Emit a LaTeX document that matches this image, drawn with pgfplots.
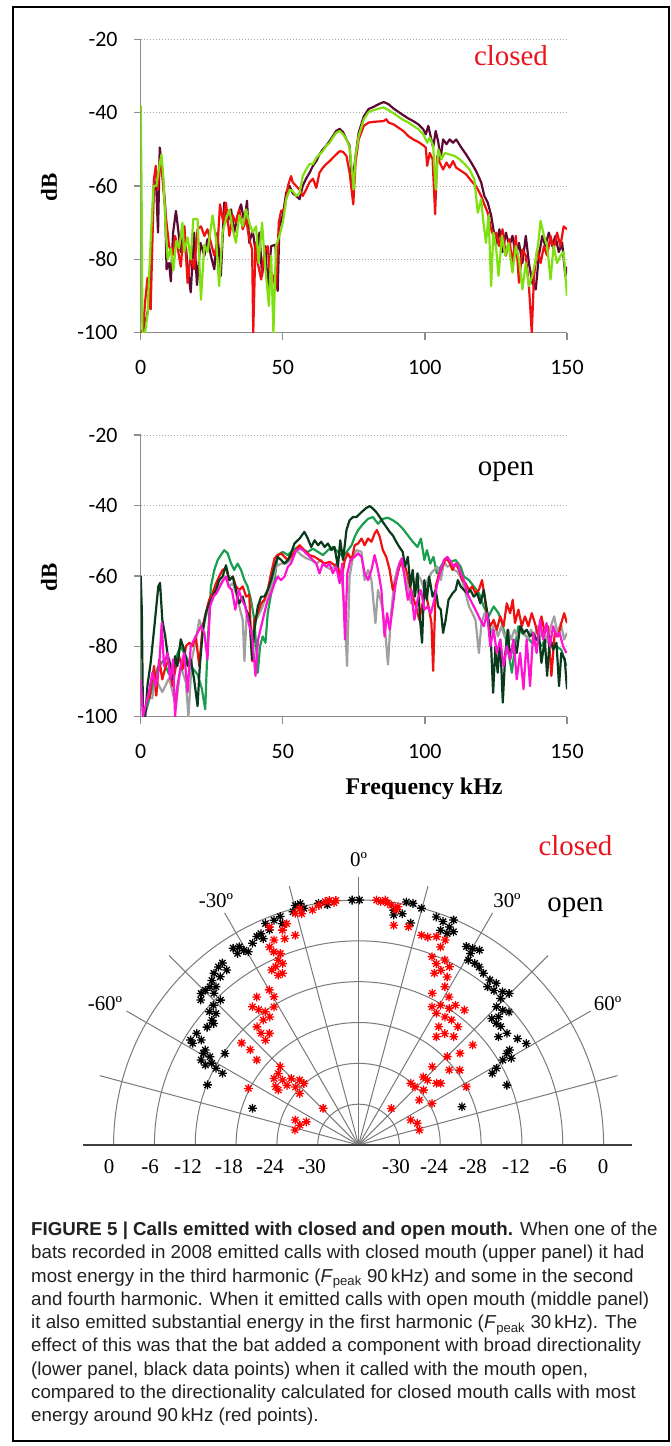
\documentclass[border=0pt]{standalone}
\usepackage{fontspec}
\setmainfont{Liberation Serif}
\newfontfamily\calibri{Carlito}
\newfontfamily\capfont{Liberation Sans}
\usepackage{pgfplots}
\usepackage{pgfplotstable}
\pgfplotsset{compat=1.18}

\definecolor{axgray}{HTML}{8C8C8C}
\definecolor{gridgray}{HTML}{A8A8A8}
\definecolor{polgray}{HTML}{7A7A7A}
\definecolor{maroon}{HTML}{5C0A33}
\definecolor{tred}{HTML}{F01010}
\definecolor{lime}{HTML}{7FE010}
\definecolor{dkgreen}{HTML}{0A3A1C}
\definecolor{mdgreen}{HTML}{1A9E50}
\definecolor{mgray}{HTML}{A0A0A0}
\definecolor{magenta}{HTML}{FF14D2}
\definecolor{lblred}{HTML}{E8141C}

% 8-armed star, as the '*' marker of the original
\pgfdeclareplotmark{mstar}{%
  \pgfpathmoveto{\pgfqpoint{0pt}{\pgfplotmarksize}}\pgfpathlineto{\pgfqpoint{0pt}{-\pgfplotmarksize}}%
  \pgfpathmoveto{\pgfqpoint{\pgfplotmarksize}{0pt}}\pgfpathlineto{\pgfqpoint{-\pgfplotmarksize}{0pt}}%
  \pgfpathmoveto{\pgfqpoint{0.707\pgfplotmarksize}{0.707\pgfplotmarksize}}\pgfpathlineto{\pgfqpoint{-0.707\pgfplotmarksize}{-0.707\pgfplotmarksize}}%
  \pgfpathmoveto{\pgfqpoint{0.707\pgfplotmarksize}{-0.707\pgfplotmarksize}}\pgfpathlineto{\pgfqpoint{-0.707\pgfplotmarksize}{0.707\pgfplotmarksize}}%
  \pgfusepathqstroke}

\pgfplotsset{spec/.style={
  scale only axis, width=426.3bp,
  xmin=0, xmax=150, ymin=-100, ymax=-20,
  xtick={0,50,100,150}, ytick={-100,-80,-60,-40,-20},
  axis x line*=bottom, axis y line*=left,
  axis line style={draw=axgray, line width=1.3bp, -},
  tick style={draw=axgray, line width=1.3bp},
  tick align=outside, major tick length=7bp,
  ymajorgrids, grid style={draw=gridgray, line width=1bp, dotted},
  /pgf/number format/assume math mode=true,
  tick label style={font=\calibri\fontsize{22}{22}\selectfont, inner sep=0pt},
  xticklabel style={anchor=north, yshift=-20.3bp},
  yticklabel style={anchor=east, xshift=-16bp},
  every axis plot/.append style={line width=2.2bp, no markers, line join=round},
}}

% polar data: angle from straight ahead (deg), level (dB)
\pgfplotstableread{
ang db
-14.8 0.4
-13.0 -0.3
-15.7 -0.4
-13.6 0.5
-9.4 0.0
-7.4 -0.4
-18.9 -0.5
-20.6 -0.7
-22.8 -0.7
-19.0 -1.6
-24.8 -1.8
-26.0 -1.9
-24.8 -2.6
-22.5 -1.8
-31.0 -2.0
-32.5 -1.7
-30.5 -2.8
-32.3 -2.7
-27.7 -2.5
-29.7 -3.3
-36.8 -2.6
-38.2 -2.7
-40.1 -3.0
-37.0 -3.8
-39.4 -4.0
-41.7 -3.6
-43.2 -4.1
-42.0 -4.7
-44.7 -4.0
-46.1 -3.9
-43.6 -5.2
-43.6 -6.6
-47.4 -4.5
-46.1 -6.4
-48.2 -6.6
-47.3 -7.5
-49.6 -7.7
-50.0 -8.2
-52.1 -7.8
-55.4 -7.1
-58.0 -6.9
-58.5 -7.4
-56.3 -8.2
-58.2 -9.5
-59.4 -9.5
-59.3 -10.6
-61.6 -9.7
-62.4 -10.6
-60.9 -11.3
-62.2 -13.4
-61.7 -12.2
-55.6 -12.2
-68.3 -12.1
-70.9 -19.5
-1.5 0.0
0.2 0.0
11.1 0.4
12.7 0.4
14.9 0.0
8.5 -1.1
10.7 -1.4
13.2 -2.5
8.7 -1.8
18.8 -0.6
20.7 -0.9
22.6 -1.3
24.0 -1.7
20.9 -2.2
22.7 -2.3
22.9 -0.1
28.5 -2.8
30.1 -2.6
31.8 -2.3
30.3 -3.4
30.7 -4.4
32.6 -4.3
34.1 -4.4
36.0 -4.8
38.5 -5.0
40.4 -4.8
39.2 -6.0
41.2 -5.8
43.2 -5.1
44.8 -4.6
44.1 -6.0
44.9 -7.3
46.9 -7.0
48.5 -6.5
47.5 -8.1
46.5 -9.0
48.5 -9.0
50.2 -8.8
53.0 -8.7
52.3 -10.0
56.2 -7.9
58.8 -7.2
57.8 -9.8
58.3 -10.4
59.5 -11.4
60.4 -10.2
60.9 -12.8
61.8 -13.7
68.0 -12.5
69.7 -19.8
}\openpts

\pgfplotstableread{
ang db
-6.8 0.2
-5.3 0.1
-5.8 -0.2
-7.8 0.1
-9.4 -0.3
-14.0 -0.2
-11.1 -0.8
-15.3 -0.7
-13.8 -1.0
-19.5 -2.5
-18.0 -1.8
-22.2 -1.4
-16.8 -3.8
-19.7 -3.8
-22.4 -3.4
-24.2 -4.1
-23.7 -5.0
-22.2 -5.6
-23.5 -6.4
-22.7 -7.1
-24.9 -7.1
-26.4 -7.3
-25.3 -8.4
-23.9 -8.4
-29.9 -9.7
-29.7 -10.9
-34.5 -9.6
-37.5 -10.4
-36.4 -11.3
-35.0 -12.1
-31.5 -12.2
-34.7 -13.1
-37.3 -12.9
-40.7 -13.1
-41.1 -14.2
-38.6 -15.0
-41.6 -15.4
-48.9 -13.2
-48.7 -14.8
-50.1 -16.5
-45.0 -19.7
-48.3 -20.2
-51.8 -20.2
-49.5 -21.3
-45.4 -22.1
-42.2 -23.1
-41.6 -23.9
-47.4 -23.4
-50.2 -22.3
-55.6 -21.7
-54.8 -21.1
-48.8 -24.5
-62.8 -17.8
-44.0 -28.5
-68.4 -26.0
-66.1 -27.6
-71.3 -26.9
-76.7 -26.4
4.2 0.1
5.2 -0.1
6.2 0.2
6.8 -0.2
7.8 -0.4
9.4 -0.5
9.0 -1.0
9.1 -3.3
12.9 -3.1
16.7 -3.8
18.4 -3.8
20.5 -3.3
22.9 -3.3
22.5 -4.5
21.3 -6.3
23.2 -7.0
25.0 -6.0
27.0 -6.6
25.2 -7.6
23.8 -8.4
27.8 -8.1
28.6 -9.5
25.9 -11.2
31.4 -10.5
28.0 -13.0
30.4 -12.2
33.6 -11.9
34.7 -11.0
38.1 -10.8
30.6 -13.5
34.0 -13.3
36.6 -13.1
40.0 -13.3
34.1 -15.0
37.7 -15.3
41.3 -14.8
35.7 -16.4
48.8 -13.7
47.9 -15.9
45.1 -17.6
43.2 -20.2
50.4 -18.7
53.5 -17.5
43.6 -22.2
46.8 -22.1
51.6 -21.4
44.1 -24.1
40.2 -24.1
49.8 -23.5
53.1 -20.9
61.6 -18.0
53.5 -24.9
60.5 -23.6
41.9 -28.8
64.4 -27.5
69.7 -26.8
76.1 -26.8
}\closedpts

\begin{document}
\begin{tikzpicture}[x=1bp,y=1bp]
\path[use as bounding box] (0,0) rectangle (671,-1446);
\draw[line width=1.3bp] (13,-7) rectangle (669,-1441);

% ---------------- upper panel: closed mouth
\begin{axis}[spec, height=293.4bp, at={(140.7bp,-332.7bp)}, anchor=south west]
\addplot[maroon] coordinates {
(0,-100)(1,-99)(2,-96)(2.9,-92.7)(4.1,-70)(4.7,-58)(5.5,-61)(6.1,-72.7)(6.7,-49.5)(7.6,-55.5)
(8.6,-65.5)(9.1,-82.7)(10,-81)(10.6,-86)(11.4,-72.7)(12.4,-66.8)(13.3,-72.7)(14.1,-78)(15.3,-71)
(16.5,-82)(17.6,-89)(18.8,-72.7)(19.8,-87)(21,-75.5)(22.4,-79)(23.5,-74.5)(24.7,-79)(25.9,-82.7)
(27,-72.7)(28.2,-84.5)(29.4,-64.5)(30.6,-70)(31.8,-66.4)(32.9,-72.7)(34.1,-68)(35.3,-65)(36.5,-70)
(37.4,-64)(38.2,-75.5)(39.4,-72)(40.6,-79)(41.8,-72.7)(42.7,-84.5)(43.9,-76.4)(44.7,-88)(45.9,-76.4)
(47.4,-76)(48.2,-88.6)(48.8,-71)(50,-68)(51.2,-61.8)(52.4,-60)(53.5,-62)(54.7,-62.7)(55.9,-63.6)
(57,-60)(58.2,-58)(59.4,-56.4)(60.6,-54.5)(61.8,-53.2)(62.9,-51.4)(64.1,-50)(65.3,-49)(66.5,-47.7)
(67.6,-46.4)(68.8,-45)(70,-44.4)(71.2,-45.3)(72.4,-47.3)(73.5,-49)(74.4,-60)(75.6,-51.8)(76.7,-45.5)
(78.5,-41)(80.2,-39)(82,-38.4)(83.7,-37.7)(85.5,-37.1)(87.2,-37.7)(89,-38.9)(90.7,-39.8)(92.4,-40.7)
(94.2,-41.6)(95.9,-42.3)(97.7,-43.2)(99.4,-44.5)(100.3,-45.9)(101.2,-43.6)(102,-46.4)(102.9,-49.5)
(103.8,-45)(104.7,-48)(105.5,-52.7)(106.4,-47.3)(107.6,-48.6)(108.7,-47.3)(109.9,-48.2)(111,-47.3)
(112.8,-49.5)(114.5,-51.4)(116.3,-53.6)(118,-55.9)(119.8,-59)(120.9,-62.7)(122.1,-64.5)(123.3,-68)
(124.1,-71.8)(125,-76.4)(126.2,-71.8)(127.3,-78)(128.5,-72.7)(129.7,-76.4)(130.8,-73.6)(132,-79)
(133.1,-75.5)(134.3,-81)(135.5,-73.6)(136.6,-81)(137.8,-86.4)(139,-88.2)(140.1,-79)(141.3,-73.6)
(142.4,-76.4)(143.6,-72.7)(144.8,-76.4)(145.9,-73.6)(147.1,-78)(148.3,-75.5)(149.4,-84.5)(150,-82)};
\addplot[tred] coordinates {
(0.8,-100)(1.5,-92)(2.4,-85)(3.5,-93.6)(4.7,-58)(5.3,-54.5)(6,-61)(6.8,-52.7)(7.6,-57.3)(8.8,-68)
(10,-76.4)(11.2,-79)(12.1,-73.6)(12.9,-76.4)(14.1,-82)(15.3,-71)(16.5,-86.4)(17.6,-79)(18.8,-82.7)
(20,-71.8)(21.2,-71)(22.4,-73.6)(23.5,-71.8)(24.7,-75.5)(25.9,-79)(27.1,-75.5)(27.9,-65)(29.1,-70)
(30,-64.5)(31.2,-73.6)(32.4,-68)(33.5,-70)(34.7,-66.4)(35.9,-71.8)(37.1,-69)(38.2,-74.5)(39.2,-77.3)
(39.6,-100)(40.4,-75.5)(41.2,-81)(42.4,-85.5)(43.5,-78)(44.7,-76.4)(45.3,-82.7)(46.5,-84.5)(47.6,-88)
(48.6,-70)(49.4,-66.8)(50.6,-66.4)(51.8,-60)(52.9,-57.3)(53.5,-59)(54.7,-60)(55.9,-61)(57,-62.7)
(58.2,-61)(59.4,-59)(60.6,-58)(61.8,-60.5)(62.9,-56.4)(64.1,-55)(65.3,-54)(66.5,-53.2)(67.6,-52.3)
(68.8,-51.4)(70,-50.5)(71.2,-50.7)(72.4,-51.8)(73.5,-56.4)(74.8,-65)(75.6,-53.6)(76.7,-47.3)
(78.5,-43.6)(80.2,-42.7)(82,-42.5)(83.7,-42.4)(85.5,-42.3)(86.4,-41.8)(87.2,-42.7)(89,-43.2)
(90.7,-44.1)(92.4,-45)(94.2,-46.4)(95.9,-47.3)(97.7,-48)(99.4,-48.9)(100.3,-49.5)(100.8,-54.5)
(101.7,-51)(102.7,-52.7)(103.6,-67.7)(104.3,-51.8)(105.2,-53.6)(106.4,-55.5)(107.6,-53.6)(108.7,-55)
(109.9,-53.2)(111,-55)(112.8,-55.9)(114.5,-56.8)(116.3,-58.6)(118,-60)(119.8,-62.7)(120.9,-65)
(122.1,-67.3)(123.3,-71.8)(124.1,-73.6)(125,-72.7)(126.2,-76.4)(127.3,-71.8)(128.5,-79)(129.7,-74.5)
(130.8,-81)(132,-73.6)(133.1,-86.4)(134.3,-77.3)(135.5,-79)(136.6,-87.3)(137.6,-100)(138.4,-84.5)
(139.5,-77.3)(140.7,-81)(141.9,-76.4)(143,-79)(144.2,-73.6)(145.3,-77.3)(146.5,-72.7)(147.7,-76.4)
(148.8,-71)(150,-71.8)};
\addplot[lime] coordinates {
(0,-38)(0.3,-60)(0.6,-100)(1.5,-100)(2.4,-95)(3.5,-75)(4.5,-60)(5.5,-60)(6.5,-55)(7.3,-51.4)(8,-58)
(8.8,-72)(9.5,-80)(10.6,-77)(11.5,-83)(12.5,-75)(13.5,-77)(14.7,-70)(15.3,-78)(16.5,-74)(17.6,-80)
(18.5,-69)(20,-69)(21.2,-91)(22.4,-76)(23.5,-78)(25.3,-68)(26.5,-74.5)(27.6,-87.3)(28.8,-72.7)
(30,-69)(31.2,-66.4)(32.4,-71.8)(33.5,-75.5)(34.7,-68)(35.9,-71)(37.1,-66.4)(38.2,-70)(39.4,-72.7)
(40.6,-71)(41.5,-81)(42.7,-70)(43.9,-82.7)(45.1,-92.7)(45.9,-79)(46.7,-100)(47.6,-76.4)(48.8,-73.6)
(50,-70)(51.2,-63.6)(52.4,-61)(53.5,-61.4)(54.7,-62.7)(55.9,-62)(57,-57.3)(58.2,-55.5)(59.4,-54)
(60.6,-54)(61.8,-52.3)(62.9,-51.4)(64.1,-50.5)(65.3,-49)(66.5,-48.2)(67.6,-46.8)(68.8,-45.5)(70,-45)
(71.2,-45.9)(72.4,-47.3)(73.5,-49.5)(74.4,-56.4)(74.9,-61)(75.6,-51.8)(76.7,-46.4)(78.5,-41.8)
(80.2,-39.8)(82,-39.3)(83.7,-38.9)(85.5,-38.6)(87.2,-39.3)(89,-40.2)(90.7,-41.1)(92.4,-42)(94.2,-42.7)
(95.9,-43.6)(97.7,-44.5)(99.4,-45.9)(100.8,-48.2)(101.7,-46.8)(102.9,-49)(103.8,-61)(104.7,-50)
(105.8,-52.7)(107,-51)(108.7,-51.4)(110.5,-51.8)(112.2,-52.7)(114,-54)(115.7,-55.5)(117.4,-58.2)
(118.6,-67.3)(119.8,-63.6)(120.6,-70)(121.5,-75.5)(122.4,-68)(123.3,-87.3)(124.1,-72.7)(125,-76.4)
(125.9,-84.5)(127.1,-73.6)(128.3,-79)(129.4,-75.5)(130.8,-83.6)(132,-76.4)(133.1,-80)(134.3,-88.2)
(135.5,-81)(136.6,-87.3)(137.8,-84.5)(139,-80)(139.9,-75.5)(140.7,-69.5)(141.9,-73.6)(143,-76.4)
(144.2,-85.5)(145.3,-76.4)(146.5,-81)(147.7,-79)(148.8,-78)(150,-90)};
\end{axis}
\node[rotate=90, font=\bfseries\fontsize{23}{23}\selectfont] at (49,-187) {dB};
\node[anchor=base, text=lblred, font=\fontsize{29}{29}\selectfont] at (511,-66) {closed};

% ---------------- middle panel: open mouth
\begin{axis}[spec, height=281.7bp, at={(140.7bp,-716.7bp)}, anchor=south west]
\addplot[mdgreen] coordinates {
(1,-100)(2,-98)(4,-92)(6,-86)(8,-84)(10,-88)(12,-84)(14,-80)(16,-83)(18,-86)(20,-88)(21.5,-92)
(22.7,-97.9)(23.5,-80)(24.7,-63)(25.9,-58.3)(27.1,-55.5)(28.2,-54.1)(29.4,-52.7)(30.6,-53.6)(31.8,-56.5)
(32.9,-58.3)(34.1,-56.5)(35.3,-58.3)(36.5,-61.2)(37.6,-63)(38.8,-66.8)(40,-72.5)(41.2,-87.5)(42,-80)
(42.9,-77.2)(43.9,-79)(44.7,-70.6)(45.9,-64.9)(47.1,-61.2)(48.2,-54.1)(50,-53.2)(51.8,-54.1)(53.5,-52.7)
(55.3,-51.8)(57.1,-52.7)(58.8,-53.2)(60.6,-52.3)(62.4,-53.2)(64.1,-54.1)(65.9,-52.7)(67.6,-51.8)
(69.4,-53.2)(71.2,-54.6)(72.9,-52.7)(74.2,-51.3)(75.3,-48.9)(76.5,-47)(78.3,-45.2)(80,-43.8)(81.7,-43.3)
(83.5,-45.2)(85.2,-43.8)(87,-43.5)(88.7,-44.2)(90.5,-45.2)(92.2,-46.6)(94,-48.5)(95.7,-50.3)(97.4,-51.8)
(98.6,-49.4)(99.8,-55.5)(100.7,-52.7)(101.9,-56.5)(103,-54.6)(104.2,-59.3)(105.6,-57.4)(107.3,-55)
(109.1,-56)(110.8,-55.5)(112.6,-57.4)(113.7,-60.2)(115.5,-61.2)(117.2,-63)(119,-64.9)(120.7,-68.7)
(122.4,-71.5)(124.2,-68.7)(125.9,-70.6)(127.1,-73.4)(128.3,-77.2)(129.4,-81.9)(130.6,-87.5)(131.7,-80)
(132.9,-74.3)(134.1,-76.2)(135.8,-77.2)(137.6,-79)(139.3,-78.1)(141,-80)(142.8,-77.2)(144.5,-79)
(146.3,-80)(148,-81)(149.8,-85.6)};
\addplot[mgray] coordinates {
(4,-95)(5.3,-89.4)(7.6,-93)(10,-89)(12.4,-97)(14.1,-85.6)(15.9,-90.3)(16.8,-100)(18,-83.7)(19.4,-78.1)
(20.6,-72.5)(21.8,-75.3)(22.9,-71.5)(24.1,-68.7)(25.3,-66.8)(26.5,-64)(27.6,-63)(28.8,-61.2)(30,-60.2)
(31.2,-63)(32.4,-62.1)(33.5,-64.9)(34.7,-68.7)(35.9,-72.5)(36.5,-84.2)(37.3,-70.6)(38.2,-72.5)
(39.4,-77.2)(40.6,-72.5)(41.8,-70.6)(42.9,-68.7)(44.1,-65.9)(45.3,-64.9)(46.5,-61.2)(47.6,-57.4)
(49.4,-56.5)(51.2,-56.5)(52.9,-55.5)(54.7,-52.7)(56.5,-54.1)(58.2,-55)(60,-55.5)(61.8,-56.5)(63.5,-55.5)
(65.3,-57.4)(67.1,-58.3)(68.8,-56.5)(70.6,-59.3)(71.8,-70.6)(72.6,-85.6)(73.5,-60.2)(74.7,-54.6)
(75.9,-52.7)(77.7,-53.2)(78.8,-61.2)(80,-58.3)(81.2,-61.2)(82.6,-73.4)(83.5,-64)(84.7,-67.8)(85.8,-73.4)
(87,-85.2)(88.1,-70.6)(89.3,-61.2)(90.5,-57.4)(91.6,-56.5)(92.8,-59.3)(94,-63)(95.1,-67.8)(96.3,-63)
(97.4,-59.3)(98.6,-61.2)(99.8,-64)(100.9,-61.2)(102.1,-59.3)(103.3,-58.3)(104.4,-57.4)(105.6,-61.2)
(106.7,-56)(107.9,-57.4)(109.1,-56.9)(110.2,-58.3)(111.4,-58.8)(113.1,-61.2)(114.3,-64.9)(115.5,-68.7)
(116.7,-70.6)(117.8,-72.5)(119,-81.9)(119.9,-73.4)(121,-70.6)(122.2,-72.5)(123.4,-76.2)(124.5,-73.4)
(125.7,-77.2)(126.9,-74.3)(128,-77.2)(129.2,-75.3)(130.3,-78.1)(131.5,-75.3)(132.7,-77.2)(133.8,-74.3)
(135,-76.2)(136.2,-78.1)(137.3,-75.3)(138.5,-77.2)(139.7,-74.3)(140.8,-77.2)(142,-75.3)(143.1,-79)
(144.3,-74.3)(145.5,-71.5)(146.6,-76.2)(147.8,-73.4)(149,-78.1)(150,-76.2)};
\addplot[tred] coordinates {
(3,-95)(4.7,-85.6)(5.5,-94)(6.5,-83.7)(7.6,-89.4)(8.8,-85.6)(10,-83.7)(11.2,-91.3)(12.4,-85.6)(13.5,-82.8)
(14.7,-86.6)(15.9,-80)(17.1,-79)(18.2,-80)(19.4,-77.2)(20.6,-85.6)(21.8,-74.3)(22.9,-70.6)(24.1,-66.8)
(25.3,-64.9)(26.5,-62.1)(27.6,-60.2)(28.8,-58.3)(30,-57.9)(31.2,-61.2)(32.4,-60.2)(33.5,-63)(34.7,-64)
(35.9,-63)(37.1,-65.9)(38.2,-65.4)(39.2,-84.2)(40,-72.5)(41.2,-70.6)(42.4,-67.8)(43.5,-66.8)(44.7,-64)
(45.9,-59.3)(47.1,-55)(48.2,-54.1)(49.4,-53.6)(50.6,-54.6)(51.8,-55.5)(52.9,-54.6)(54.1,-53.2)
(55.9,-51.3)(57.6,-52.7)(59.4,-54.1)(61.2,-54.6)(62.9,-55.5)(64.7,-56.5)(66.5,-56)(68.2,-56.9)
(69.4,-57.9)(70.6,-61.2)(71.8,-55.5)(72.9,-53.6)(74.2,-55.5)(75.3,-51.3)(76.5,-50.8)(77.7,-49.4)
(78.8,-51.3)(80,-49.4)(81.2,-50.3)(82.3,-48)(83.1,-47)(84.1,-48.9)(85.2,-52.7)(86.4,-54.6)(87.6,-58.3)
(88.7,-64)(89.9,-61.2)(91,-57.4)(92.2,-55.5)(93.4,-58.3)(94.5,-62.1)(95.7,-65.9)(96.9,-68.7)(98,-72.5)
(99.2,-67.8)(100.3,-64.9)(101.5,-69.6)(102.3,-73.4)(102.9,-87)(103.8,-63)(105,-59.3)(106.2,-57.4)
(107.3,-55)(108.5,-56)(109.7,-58.3)(110.8,-56.5)(112,-58.3)(113.1,-61.2)(114.3,-62.1)(115.5,-64)
(116.7,-63)(117.8,-64.9)(119,-64)(120.1,-61.2)(121,-65.9)(121.9,-71.5)(123,-74.3)(124.2,-72.5)
(125.3,-75.3)(126.5,-71.5)(127.7,-74.3)(128.8,-67.8)(130,-70.6)(130.9,-66.8)(131.7,-73.4)(132.9,-69.6)
(134.1,-74.3)(135.2,-71.5)(136.4,-74.3)(137.6,-70.6)(138.7,-73.4)(139.9,-77.2)(141,-71.5)(142.2,-76.2)
(143.3,-74.3)(144.5,-88.4)(145.7,-76.2)(146.9,-77.2)(148,-73.4)(149,-70.6)(150,-73.4)};
\addplot[dkgreen] coordinates {
(0,-60)(0.4,-70)(0.8,-100)(1.6,-100)(2.4,-91)(3.5,-84.7)(4.7,-75.3)(5.5,-68.7)(6.2,-63)(6.8,-62)
(7.6,-72.5)(8.6,-77)(9.4,-82)(10.4,-85.6)(11.2,-89.4)(12.1,-82.8)(12.9,-85.6)(14.1,-78)(15.3,-81)
(16.5,-85.6)(17.6,-83.7)(18.8,-89.4)(20,-97)(20.8,-85.6)(21.8,-76.2)(22.9,-70.6)(24.1,-67.8)
(25.3,-65.9)(26.5,-64)(27.6,-61.2)(28.8,-60.2)(30,-57)(31.2,-61.2)(32.4,-60.2)(33.5,-64)(34.7,-67.8)
(35.9,-65.9)(37.1,-69.6)(38.2,-71.5)(39.2,-83.7)(40,-75.3)(41.2,-68.7)(42.4,-65.9)(43.5,-65.9)
(44.7,-64)(45.9,-61.2)(47.1,-57.4)(48.2,-54.6)(49.4,-55.5)(50.6,-56.5)(51.8,-55.5)(52.9,-53.6)
(54.1,-50.8)(55.9,-49.4)(57.6,-47.5)(58.8,-49.4)(60,-51.8)(61.2,-49.9)(62.4,-51.3)(63.5,-50.3)
(64.7,-51.8)(65.9,-50.8)(67.1,-52.7)(68.2,-51.8)(69.4,-57.4)(70.2,-49.9)(71.2,-55.5)(72.4,-47)
(73.5,-44.2)(74.7,-43.3)(75.9,-43.3)(77.7,-41.9)(79.4,-40.7)(80.6,-40.2)(81.7,-40.9)(82.9,-41.9)
(84.1,-43.3)(85.2,-44.7)(86.4,-46.1)(87.6,-47.5)(88.7,-48.5)(89.9,-50.3)(91,-51.8)(92.2,-53.2)(93,-57.4)
(94,-54.6)(94.9,-63)(95.7,-58.3)(96.5,-65.9)(97.4,-59.3)(98.3,-72.5)(99,-79)(99.8,-61.2)(100.7,-66.8)
(101.5,-60.2)(102.7,-65.9)(103.8,-64)(104.7,-68.7)(105.6,-69.6)(106.4,-76.2)(107.3,-72.5)(108.3,-66.8)
(109.7,-65)(110.8,-64)(111.6,-61.2)(112.6,-63)(113.7,-64)(114.9,-65)(116,-64)(117.2,-65.9)(118.4,-65)
(119.5,-67.8)(120.7,-64)(121.6,-68.7)(122.4,-72.5)(123.3,-80)(124,-93.2)(124.8,-80)(125.6,-87.5)
(126.5,-78.1)(127.4,-96)(128.3,-81.9)(129.2,-75.3)(130,-83.7)(131.2,-78.1)(132.3,-81.9)(133.5,-74.3)
(134.7,-76.2)(135.8,-75.3)(137,-77.2)(138.1,-76.2)(139.3,-78.1)(140.2,-77.2)(141,-84.7)(142.2,-78.1)
(143,-88.4)(144,-77.2)(145.1,-81)(146.3,-79)(147.2,-91.3)(148,-81.9)(149.2,-83.7)(150,-92.2)};
\addplot[magenta] coordinates {
(0,-89.4)(0.8,-100)(2.9,-93)(4.1,-87.5)(5.3,-91.3)(6.5,-85.6)(7.4,-73.4)(8.2,-85.6)(9.4,-81.9)
(10.4,-89.4)(11.4,-83.7)(12.1,-100)(12.9,-91.3)(14.1,-85.6)(15.3,-81.9)(16.5,-93)(17.6,-80)(18.8,-78.1)
(20,-76.2)(21.2,-74.3)(22.4,-76.2)(23.5,-83.7)(24.4,-68.7)(25.5,-65.9)(26.7,-64.9)(27.9,-63)(29.1,-61.2)
(30,-60.2)(30.9,-63)(32.1,-64)(33.3,-69.6)(34.5,-64)(35.6,-66.8)(36.8,-68.7)(38,-73.4)(39.2,-77.2)
(40.4,-88.4)(41.3,-78.1)(42.4,-74.3)(43.5,-70.6)(44.7,-66.8)(45.9,-64.9)(47.1,-62.1)(48.2,-60.2)
(49.4,-61.2)(50.6,-60.2)(51.8,-57.4)(52.9,-56.5)(54.7,-52.7)(56.5,-52.2)(58.2,-53.6)(60,-55)(61.8,-56.5)
(62.9,-59.3)(64.1,-56.5)(65.3,-57.4)(66.5,-56.5)(67.6,-59.3)(68.8,-57.4)(70,-62.1)(70.9,-56.5)
(71.9,-78.1)(72.7,-59.3)(73.8,-55.5)(75.3,-54.6)(76.5,-53.6)(77.7,-54.6)(78.8,-59.3)(80,-61.2)
(81.2,-58.3)(82.3,-54.1)(83.5,-58.3)(84.7,-64)(85.8,-77.2)(86.7,-70.6)(87.6,-75.3)(88.7,-68.7)
(89.9,-61.2)(91,-56.5)(91.9,-55)(92.8,-60.2)(94,-66.8)(95.1,-64)(96.3,-72.5)(97.4,-66.8)(98.6,-64)
(99.8,-69.6)(100.9,-68.7)(102.1,-70.6)(103.3,-66.8)(104.4,-62.1)(105.6,-58.3)(106.7,-55.5)(107.9,-54.6)
(109.1,-56)(110.2,-57.4)(111.4,-56.5)(112.6,-59.3)(113.7,-61.2)(114.9,-64.9)(116,-66.8)(117.2,-68.7)
(118.4,-70.6)(119.5,-72.5)(120.7,-74.3)(121.9,-70.6)(123,-80)(124.2,-75.3)(125.3,-81.9)(126.5,-78.1)
(127.7,-85.6)(128.8,-80)(130,-83.7)(131.2,-78.1)(132.3,-89.4)(133.5,-81.9)(134.7,-92.2)(135.8,-78.1)
(137,-91.3)(138.1,-76.2)(139.3,-81.9)(140.5,-72.5)(141.6,-78.1)(142.8,-73.4)(144,-80)(145.1,-74.3)
(146.3,-77.2)(147.4,-76.2)(148.6,-80)(149.8,-81.9)};
\end{axis}
\node[rotate=90, font=\bfseries\fontsize{23}{23}\selectfont] at (49,-577) {dB};
\node[anchor=base, font=\fontsize{29}{29}\selectfont] at (506,-475) {open};
\node[anchor=base, font=\bfseries\fontsize{24}{24}\selectfont] at (424,-794) {Frequency kHz};

% ---------------- lower panel: directionality
\foreach \k in {1,...,6}
  \draw[polgray, line width=1bp] ({358.6+40.833*\k},-1145) arc[start angle=0, end angle=180, radius={40.833*\k}];
\foreach \a in {-75,-60,...,75}
  \draw[polgray, line width=1bp] (358.6,-1145) -- ++({90-\a}:268);
\draw[black!75, line width=1.3bp] (83,-1145) -- (632,-1145);

\begin{axis}[hide axis, scale only axis, width=549.9bp, height=272.2bp,
  xmin=-40.4, xmax=40.4, ymin=0, ymax=40, clip=false,
  at={(83.6bp,-1145bp)}, anchor=south west]
\addplot[only marks, mark=mstar, mark size=4.4bp, draw=black, mark options={line width=1.3bp}]
  table[x expr={(36+\thisrow{db})*sin(\thisrow{ang})}, y expr={(36+\thisrow{db})*cos(\thisrow{ang})}] {\openpts};
\addplot[only marks, mark=mstar, mark size=4.4bp, draw=red, mark options={line width=1.3bp}]
  table[x expr={(36+\thisrow{db})*sin(\thisrow{ang})}, y expr={(36+\thisrow{db})*cos(\thisrow{ang})}] {\closedpts};
\end{axis}

\begin{scope}[every node/.style={anchor=base, font=\fontsize{21}{21}\selectfont}]
\node at (358.6,-866.7) {0º};
\node at (216,-907) {-30º};
\node at (507,-907) {30º};
\node at (105,-1010.7) {-60º};
\node at (607.6,-1010.7) {60º};
\foreach \x/\t in {109/0,150/-6,188/-12,229/-18,270/-24,312/-30,396/-30,434/-24,473/-28,516/-12,558/-6,603/0}
  \node at (\x,-1173.3) {\t};
\end{scope}
\node[anchor=base, text=lblred, font=\fontsize{29}{29}\selectfont] at (575.5,-855) {closed};
\node[anchor=base, font=\fontsize{29}{29}\selectfont] at (575.5,-911.7) {open};

% ---------------- caption
\node[anchor=north west, inner sep=0pt, align=left, text=black!87,
  font=\capfont\fontsize{18.8}{23.4}\selectfont] at (31,-1221.6) {%
\textbf{FIGURE 5 | Calls emitted with closed and open mouth.} When one of the\\
bats recorded in 2008 emitted calls with closed mouth (upper panel) it had\\
most energy in the third harmonic (\textit{F}\textsubscript{peak} 90\,kHz) and some in the second\\
and fourth harmonic. When it emitted calls with open mouth (middle panel)\\
it also emitted substantial energy in the first harmonic (\textit{F}\textsubscript{peak} 30\,kHz). The\\
effect of this was that the bat added a component with broad directionality\\
(lower panel, black data points) when it called with the mouth open,\\
compared to the directionality calculated for closed mouth calls with most\\
energy around 90\,kHz (red points).};
\end{tikzpicture}
\end{document}
